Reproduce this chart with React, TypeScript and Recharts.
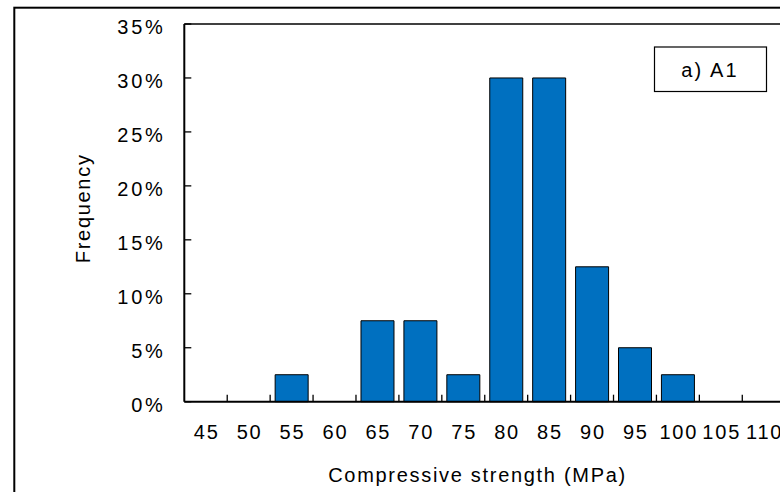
import React from 'react';
import { BarChart, Bar, XAxis, YAxis, ReferenceLine } from 'recharts';

// strength classes (MPa) and their frequency share
const categories = ['45', '50', '55', '60', '65', '70', '75', '80', '85', '90', '95', '100', '105', '110'];
const frequency = [0, 0, 0.025, 0, 0.075, 0.075, 0.025, 0.3, 0.3, 0.125, 0.05, 0.025, 0, 0];
const yTicks = [0, 0.05, 0.1, 0.15, 0.2, 0.25, 0.3, 0.35];

const data = categories.map((c, i) => ({ strength: c, freq: frequency[i] }));

const FONT = '"Liberation Sans", Arial, sans-serif';
const FS = 20;
const BAND = 42.92;

// letter spacing differs a bit per text group to follow the original widths
const LS_X = 1.8;
const LS_Y = 2.8;
const LS_TITLE = 1.7;
const LS_BOX = 2.2;

const XTick = ({ x, y, payload }: any) => (
  <g>
    <line x1={x + BAND / 2} y1={y} x2={x + BAND / 2} y2={y - 7} stroke="#000" strokeWidth={1.3} />
    <text x={x + LS_X / 2} y={y + 37.6} textAnchor="middle" fontFamily={FONT} fontSize={FS} fill="#000" style={{ letterSpacing: LS_X }}>
      {payload.value}
    </text>
  </g>
);

const YTick = ({ x, y, payload }: any) => (
  <g>
    <line x1={x} y1={y} x2={x + 7} y2={y} stroke="#000" strokeWidth={1.3} />
    <text x={x - 18.6} y={y + 10.4} textAnchor="end" fontFamily={FONT} fontSize={FS} fill="#000" style={{ letterSpacing: LS_Y }}>
      {`${Math.round(payload.value * 100)}%`}
    </text>
  </g>
);

export default function App() {
  return (
    <div style={{ position: 'fixed', left: 0, top: 0, width: 780, height: 492, overflow: 'hidden', background: '#fff' }}>
      <div style={{ position: 'absolute', left: 0, top: 0 }}>
        <BarChart
          width={800}
          height={520}
          data={data}
          margin={{ top: 24, left: 124.3, right: 14.8, bottom: 58.3 }}
        >
          <ReferenceLine y={0.35} stroke="#000" strokeWidth={1.3} />
          <XAxis
            dataKey="strength"
            height={60}
            interval={0}
            tickSize={0}
            tickMargin={0}
            axisLine={{ stroke: '#000', strokeWidth: 2 }}
            tickLine={false}
            tick={<XTick />}
          />
          <YAxis
            width={60}
            domain={[0, 0.35]}
            ticks={yTicks}
            interval={0}
            tickSize={0}
            tickMargin={0}
            axisLine={{ stroke: '#000', strokeWidth: 2 }}
            tickLine={false}
            tick={<YTick />}
          />
          <Bar dataKey="freq" fill="#0070C0" stroke="#000" strokeWidth={1} barSize={33} isAnimationActive={false} />
        </BarChart>
      </div>
      <svg width={800} height={520} style={{ position: 'absolute', left: 0, top: 0, pointerEvents: 'none' }}>
        {/* outer chart frame, runs off the right and bottom edge */}
        <rect x={14.3} y={7.7} width={900} height={600} fill="none" stroke="#000" strokeWidth={2} />
        <text
          x={90.3}
          y={208.3}
          transform="rotate(-90 90.3 208.3)"
          textAnchor="middle"
          fontFamily={FONT}
          fontSize={FS}
          fill="#000"
          style={{ letterSpacing: LS_TITLE }}
        >
          Frequency
        </text>
        <text x={476.7 + LS_TITLE / 2} y={481.5} textAnchor="middle" fontFamily={FONT} fontSize={FS} fill="#000" style={{ letterSpacing: LS_TITLE }}>
          Compressive strength (MPa)
        </text>
        <rect x={654.5} y={47} width={112} height={44.5} fill="#fff" stroke="#000" strokeWidth={1.2} />
        <text x={709 + LS_BOX / 2} y={76.7} textAnchor="middle" fontFamily={FONT} fontSize={FS} fill="#000" style={{ letterSpacing: LS_BOX }}>
          a) A1
        </text>
      </svg>
    </div>
  );
}
